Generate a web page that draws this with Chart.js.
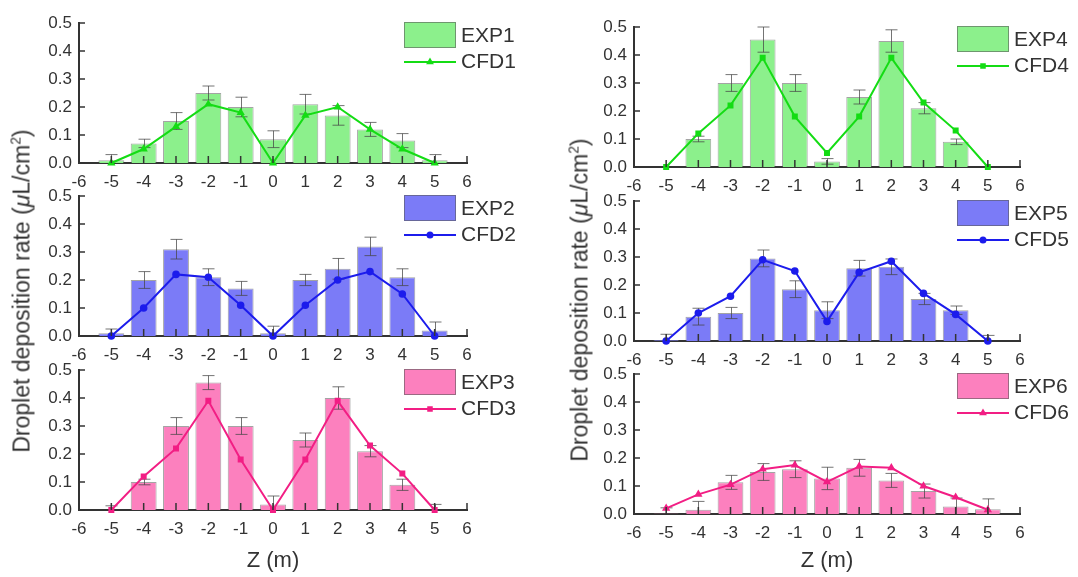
<!DOCTYPE html>
<html>
<head>
<meta charset="utf-8">
<script src="https://cdn.jsdelivr.net/npm/chart.js@4.4.1/dist/chart.umd.min.js"></script>
<style>
  body { margin: 0; background: #fff; }
  #wrap { position: relative; width: 1078px; height: 577px; overflow: hidden; font-family: "Liberation Sans", Arial, sans-serif; color: #333; }
  canvas { position: absolute; }
  .ytitle { position: absolute; white-space: nowrap; font-size: 23px; transform: translate(-50%, -50%) rotate(-90deg); }
  .ytitle sup { font-size: 0.6em; line-height: 0; }
</style>
</head>
<body>
<div id="wrap">
  <canvas id="c1" width="540" height="193" style="left:0;top:0"></canvas>
  <canvas id="c2" width="540" height="193" style="left:0;top:173px"></canvas>
  <canvas id="c3" width="540" height="230" style="left:0;top:347px"></canvas>
  <canvas id="c4" width="538" height="193" style="left:540px;top:4px"></canvas>
  <canvas id="c5" width="538" height="193" style="left:540px;top:178px"></canvas>
  <canvas id="c6" width="538" height="226" style="left:540px;top:351px"></canvas>
  <div class="ytitle" style="left:22px;top:291px">Droplet deposition rate (<i>μ</i>L/cm<sup>2</sup>)</div>
  <div class="ytitle" style="left:580px;top:300px">Droplet deposition rate (<i>μ</i>L/cm<sup>2</sup>)</div>
</div>
<script>
// positions along the tunnel (m)
var zs = [-5, -4, -3, -2, -1, 0, 1, 2, 3, 4, 5];

var exp1 = [0.01, 0.07, 0.15, 0.25, 0.20, 0.085, 0.21, 0.17, 0.12, 0.08, 0.01];
var err1 = [0.02, 0.015, 0.03, 0.025, 0.035, 0.03, 0.035, 0.035, 0.025, 0.025, 0.02];
var cfd1 = [0, 0.05, 0.13, 0.21, 0.18, 0, 0.17, 0.20, 0.12, 0.05, 0];

var exp2 = [0.01, 0.20, 0.31, 0.21, 0.17, 0.01, 0.20, 0.24, 0.32, 0.21, 0.02];
var err2 = [0.015, 0.03, 0.035, 0.03, 0.025, 0.025, 0.02, 0.037, 0.033, 0.03, 0.03];
var cfd2 = [0, 0.10, 0.22, 0.21, 0.11, 0, 0.11, 0.20, 0.23, 0.15, 0];

var exp3 = [0, 0.10, 0.30, 0.455, 0.30, 0.02, 0.25, 0.40, 0.21, 0.09, 0];
var err3 = [0.015, 0.01, 0.03, 0.025, 0.03, 0.03, 0.025, 0.04, 0.02, 0.02, 0.02];
var cfd3 = [0, 0.12, 0.22, 0.39, 0.18, 0, 0.18, 0.39, 0.23, 0.13, 0];

var exp4 = [0, 0.10, 0.30, 0.455, 0.30, 0.02, 0.25, 0.45, 0.21, 0.09, 0];
var err4 = [0, 0.01, 0.03, 0.045, 0.03, 0.01, 0.025, 0.04, 0.02, 0.01, 0];
var cfd4 = [0, 0.12, 0.22, 0.39, 0.18, 0.05, 0.18, 0.39, 0.23, 0.13, 0];

var exp5 = [0.004, 0.087, 0.10, 0.295, 0.185, 0.11, 0.26, 0.265, 0.15, 0.11, 0];
var err5 = [0.02, 0.03, 0.02, 0.03, 0.03, 0.03, 0.028, 0.028, 0.02, 0.015, 0.02];
var cfd5 = [0, 0.10, 0.16, 0.29, 0.25, 0.07, 0.245, 0.285, 0.17, 0.095, 0];

var exp6 = [0.002, 0.015, 0.113, 0.15, 0.16, 0.127, 0.165, 0.12, 0.082, 0.027, 0.017];
var err6 = [0.02, 0.03, 0.025, 0.03, 0.03, 0.04, 0.03, 0.025, 0.025, 0.03, 0.037];
var cfd6 = [0.02, 0.07, 0.105, 0.16, 0.175, 0.115, 0.17, 0.165, 0.10, 0.06, 0.015];

var xTicksFrom = -6, xTicksTo = 6;
var yMax = 0.5, yStep = 0.1;

var FONT = '"Liberation Sans", Arial, sans-serif';
var AXIS = '#333';

function points(values) {
  return zs.map(function (z, i) {
    return { x: z, y: values[i] };
  });
}

// vertical error bars on the EXP bars
var errorBars = {
  id: "errorBars",
  afterDatasetDraw: function (chart, args) {
    var ds = chart.data.datasets[args.index];
    if (!ds.errors) return;
    var ctx = chart.ctx;
    var xs = chart.scales.x;
    var ys = chart.scales.y;
    ctx.save();
    ctx.strokeStyle = "rgba(70,70,70,0.75)";
    ctx.lineWidth = 1;
    ctx.beginPath();
    ds.data.forEach(function (p, i) {
      var e = ds.errors[i];
      if (!e) return;
      var px = Math.round(xs.getPixelForValue(p.x)) + 0.5;
      var top = ys.getPixelForValue(p.y + e);
      var bot = ys.getPixelForValue(Math.max(p.y - e, 0));
      ctx.moveTo(px, top);
      ctx.lineTo(px, bot);
      ctx.moveTo(px - 6, top);
      ctx.lineTo(px + 6, top);
      if (p.y - e > 0) {
        ctx.moveTo(px - 6, bot);
        ctx.lineTo(px + 6, bot);
      }
    });
    ctx.stroke();
    ctx.restore();
  },
};

// tick marks pointing into the plot
var innerTicks = {
  id: "innerTicks",
  afterDatasetsDraw: function (chart) {
    var ctx = chart.ctx;
    var xs = chart.scales.x;
    var ys = chart.scales.y;
    ctx.save();
    ctx.strokeStyle = AXIS;
    ctx.lineWidth = 1.5;
    ctx.beginPath();
    xs.ticks.forEach(function (t) {
      var px = xs.getPixelForValue(t.value);
      ctx.moveTo(px, ys.bottom);
      ctx.lineTo(px, ys.bottom - 7);
    });
    ys.ticks.forEach(function (t) {
      var py = ys.getPixelForValue(t.value);
      ctx.moveTo(xs.left, py);
      ctx.lineTo(xs.left + 6, py);
    });
    ctx.stroke();
    ctx.restore();
  },
};

// legend box in the upper right corner
var panelLegend = {
  id: "panelLegend",
  afterDraw: function (chart) {
    var ctx = chart.ctx;
    var a = chart.chartArea;
    var line = chart.data.datasets[0];
    var bar = chart.data.datasets[1];
    var x0 = a.right - 63;
    var y0 = a.top - 1;
    ctx.save();
    ctx.fillStyle = bar.backgroundColor;
    ctx.fillRect(x0, y0, 52, 26);
    ctx.strokeStyle = "rgba(90,90,90,0.6)";
    ctx.lineWidth = 1;
    ctx.strokeRect(x0 + 0.5, y0 + 0.5, 51, 25);
    ctx.font = "21px " + FONT;
    ctx.fillStyle = AXIS;
    ctx.textBaseline = "middle";
    ctx.fillText(bar.label, x0 + 57, y0 + 14);
    var ly = y0 + 40;
    ctx.strokeStyle = line.borderColor;
    ctx.lineWidth = 2;
    ctx.beginPath();
    ctx.moveTo(x0, ly);
    ctx.lineTo(x0 + 52, ly);
    ctx.stroke();
    ctx.fillStyle = line.borderColor;
    Chart.helpers.drawPoint(ctx, { pointStyle: line.pointStyle, radius: 2.5, borderWidth: 1 }, x0 + 26, ly);
    ctx.fillStyle = AXIS;
    ctx.fillText(line.label, x0 + 57, ly);
    ctx.restore();
  },
};

function makePanel(id, n, exp, err, cfd, barColor, lineColor, marker, cfg) {
  var ctx = document.getElementById(id).getContext("2d");
  return new Chart(ctx, {
    type: "bar",
    data: {
      datasets: [
        {
          type: "line",
          label: "CFD" + n,
          data: points(cfd),
          borderColor: lineColor,
          backgroundColor: lineColor,
          borderWidth: 2,
          tension: 0,
          pointStyle: marker,
          pointRadius: 2.8,
          pointBackgroundColor: lineColor,
          pointBorderColor: lineColor,
          clip: false,
          order: 0,
        },
        {
          type: "bar",
          label: "EXP" + n,
          data: points(exp),
          errors: err,
          backgroundColor: barColor,
          borderColor: "rgba(90,90,90,0.55)",
          borderWidth: 1,
          barPercentage: 0.8,
          categoryPercentage: 1,
          order: 1,
        },
      ],
    },
    options: {
      responsive: false,
      animation: false,
      devicePixelRatio: 1,
      layout: {
        padding: { left: 0, right: cfg.padRight, top: 23, bottom: 0 },
      },
      plugins: {
        legend: { display: false },
        tooltip: { enabled: false },
      },
      scales: {
        x: {
          type: "linear",
          min: xTicksFrom,
          max: xTicksTo,
          offset: false,
          grid: { display: false, drawTicks: false },
          border: { display: true, color: AXIS, width: 2 },
          ticks: {
            stepSize: 1,
            padding: 9,
            maxRotation: 0,
            autoSkip: false,
            color: AXIS,
            font: { size: 17, family: FONT },
            callback: function (v) {
              return String(v);
            },
          },
          title: {
            display: !!cfg.xTitle,
            text: "Z (m)",
            color: AXIS,
            font: { size: 22, family: FONT },
            padding: { top: 0, bottom: 3 },
          },
          afterFit: function (s) {
            s.height = cfg.xHeight;
          },
        },
        y: {
          min: 0,
          max: yMax,
          grid: { display: false, drawTicks: false },
          border: { display: true, color: AXIS, width: 2 },
          ticks: {
            stepSize: yStep,
            padding: 7,
            color: AXIS,
            font: { size: 17, family: FONT },
            callback: function (v) {
              return v.toFixed(1);
            },
          },
          afterFit: function (s) {
            s.width = cfg.yWidth;
          },
        },
      },
    },
    plugins: [errorBars, innerTicks, panelLegend],
  });
}

var green = "#8cf08c", greenLine = "#14dc14";
var blue = "#7b7bf7", blueLine = "#1c1cec";
var pink = "#fc80be", pinkLine = "#f21e84";

var leftCol = { padRight: 73, yWidth: 79, xHeight: 30 };
var rightCol = { padRight: 58, yWidth: 94, xHeight: 30 };

makePanel("c1", 1, exp1, err1, cfd1, green, greenLine, "triangle", leftCol);
makePanel("c2", 2, exp2, err2, cfd2, blue, blueLine, "circle", leftCol);
makePanel("c3", 3, exp3, err3, cfd3, pink, pinkLine, "rect", { padRight: 73, yWidth: 79, xHeight: 67, xTitle: true });
makePanel("c4", 4, exp4, err4, cfd4, green, greenLine, "rect", rightCol);
makePanel("c5", 5, exp5, err5, cfd5, blue, blueLine, "circle", rightCol);
makePanel("c6", 6, exp6, err6, cfd6, pink, pinkLine, "triangle", { padRight: 58, yWidth: 94, xHeight: 63, xTitle: true });
</script>
</body>
</html>
